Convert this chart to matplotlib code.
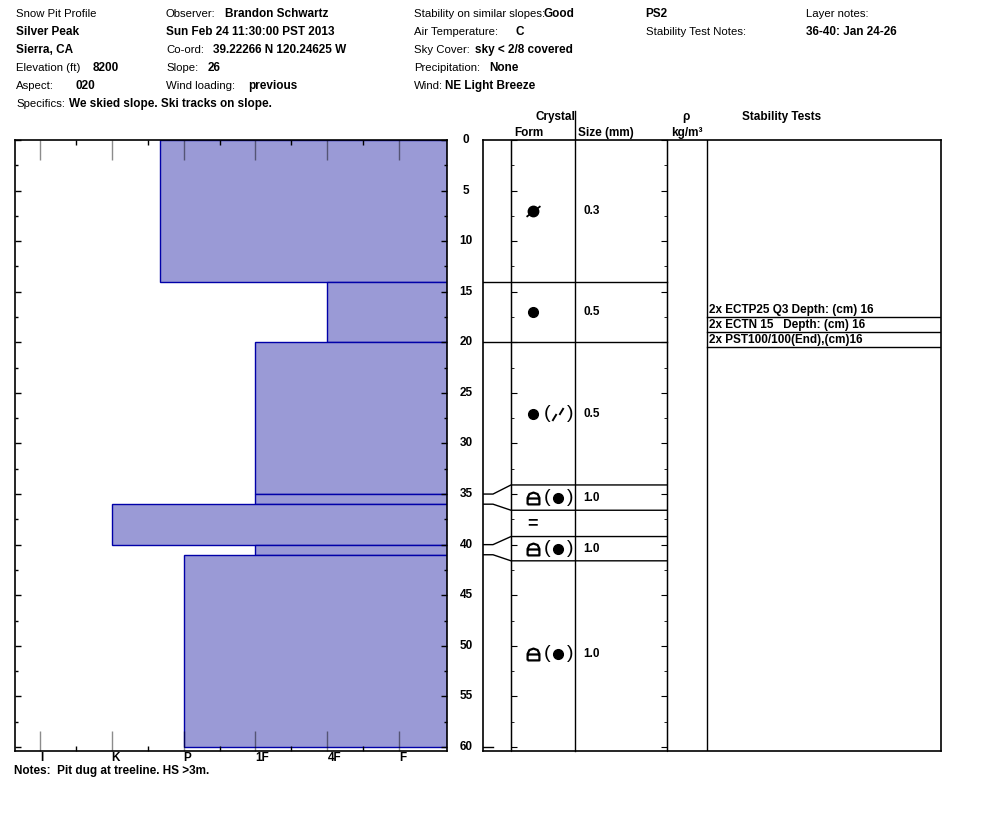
import numpy as np
import matplotlib.pyplot as plt
from matplotlib.path import Path

plt.rcParams['font.family'] = ['Liberation Sans', 'DejaVu Sans']

W, H = 994, 840

# ---- layer data (depth from surface, cm) ----
layer_top = [0, 14, 20, 35, 36, 40, 41]
layer_bottom = [14, 20, 35, 36, 40, 41, 60]
hardness = ['P-', '4F', '1F', '1F', 'K', '1F', 'P']
grain_form = ['DF', 'RG', 'RG', 'MF', 'IF', 'MF', 'MF']
grain_secondary = ['', '', 'DF', 'RG', '', 'RG', 'RG']
grain_size = ['0.3', '0.5', '0.5', '1.0', '', '1.0', '1.0']
# layer edges as drawn in the crystal column (thin layers spread out)
display_bounds = [0, 14, 20, 34.1, 36.6, 39.2, 41.6, 60]

hardness_labels = ['I', 'K', 'P', '1F', '4F', 'F']
depth_ticks = list(range(0, 61, 5))

stab_tests = ['2x ECTP25 Q3 Depth: (cm) 16',
              '2x ECTN 15   Depth: (cm) 16',
              '2x PST100/100(End),(cm)16']
stab_depth = [16, 16, 16]

# header: (label, label x, value, value x, row)
header = [
    ('Snow Pit Profile', 16, '', 0, 0),
    ('', 16, 'Silver Peak', 16, 1),
    ('', 16, 'Sierra, CA', 16, 2),
    ('Elevation (ft)', 16, '8200', 93, 3),
    ('Aspect:', 16, '020', 75, 4),
    ('Specifics:', 16, 'We skied slope. Ski tracks on slope.', 69, 5),
    ('Observer:', 166, 'Brandon Schwartz', 225, 0),
    ('', 166, 'Sun Feb 24 11:30:00 PST 2013', 166, 1),
    ('Co-ord:', 166, '39.22266 N 120.24625 W', 213, 2),
    ('Slope:', 166, '26', 208, 3),
    ('Wind loading:', 166, 'previous', 248, 4),
    ('Stability on similar slopes:', 414, 'Good', 544, 0),
    ('Air Temperature:', 414, 'C', 515, 1),
    ('Sky Cover:', 414, 'sky < 2/8 covered', 475, 2),
    ('Precipitation:', 414, 'None', 489, 3),
    ('Wind:', 414, 'NE Light Breeze', 445, 4),
    ('', 645, 'PS2', 645, 0),
    ('Stability Test Notes:', 646, '', 0, 1),
    ('Layer notes:', 806, '', 0, 0),
    ('', 806, '36-40: Jan 24-26', 806, 1),
]
notes = 'Notes:  Pit dug at treeline. HS >3m.'

HARD = {'I': 1, 'K': 2, 'P': 3, '1F': 4, '4F': 5, 'F': 6}


def hardness_value(code):
    base = code.rstrip('+-')
    v = HARD[base]
    if code.endswith('-'):
        v -= 1 / 3
    elif code.endswith('+'):
        v += 1 / 3
    return v


def px(x, y):
    return x / W, 1 - y / H


FS = 8.5
FS_LABEL = 8.2
fig = plt.figure(figsize=(W / 100, H / 100), dpi=100)

for label, lx, value, vx, row in header:
    y = 14 + 18 * row
    if label:
        fig.text(*px(lx, y), label, fontsize=FS_LABEL, va='center')
    if value:
        fig.text(*px(vx, y), value, fontsize=FS, va='center', fontweight='bold')

fig.text(*px(14, 771), notes, fontsize=FS, va='center', fontweight='bold')

# ---- hardness profile ----
XMIN, XMAX = 0.65, 6.66
YLIM = (60.4, 0)
ax = fig.add_axes([14.7 / W, 1 - 751 / H, 432 / W, 611 / H])
ax.set_xlim(XMIN, XMAX)
ax.set_ylim(*YLIM)
hv = np.array([hardness_value(h) for h in hardness])
top = np.array(layer_top)
bot = np.array(layer_bottom)
ax.barh((top + bot) / 2, XMAX - hv, left=hv, height=bot - top,
        color='#9a9ad6', edgecolor='#0000a8', linewidth=1, zorder=1)

ax.set_xticks(range(1, 7))
ax.set_xticks(np.arange(1.5, 6, 1), minor=True)
ax.set_xticklabels(hardness_labels, fontweight='bold', fontsize=FS)
for lbl in ax.get_xticklabels():
    lbl.set_ha('left')
ax.tick_params(axis='x', which='major', direction='in', length=14.5, width=1,
               color=(0, 0, 0, 0.45), top=True, bottom=True, pad=1)
ax.tick_params(axis='x', which='minor', direction='in', length=3.6, width=1,
               top=True, bottom=True)
ax.set_yticks(depth_ticks)
ax.set_yticks(np.arange(2.5, 60, 5), minor=True)
ax.tick_params(axis='y', which='major', direction='in', length=4.3, width=1,
               left=True, right=True, labelleft=False)
ax.tick_params(axis='y', which='minor', direction='in', length=2.5, width=1,
               left=True, right=True)
for s in ax.spines.values():
    s.set_linewidth(1.2)
    s.set_zorder(3)

ytr = ax.get_yaxis_transform()
for d in depth_ticks:
    ax.text((466 - 14.7) / 432, d, str(d), transform=ytr, ha='center',
            va='center', fontsize=FS, fontweight='bold')

# ---- layer table ----
at = fig.add_axes([483 / W, 1 - 751 / H, 458 / W, 611 / H])
at.set_xlim(0, 458)
at.set_ylim(*YLIM)
at.set_xticks([])
at.set_yticks([])
for s in at.spines.values():
    s.set_linewidth(1.2)
for cx in [28, 184, 224]:
    at.axvline(cx, color='k', lw=1)
at.plot([92, 92], [-2.9, 60.4], color='k', lw=1, clip_on=False)

ac = fig.add_axes([511 / W, 1 - 751 / H, 156 / W, 611 / H])
ac.set_ylim(*YLIM)
ac.patch.set_alpha(0)
ac.set_xticks([])
ac.set_yticks(depth_ticks)
ac.set_yticks(np.arange(2.5, 60, 5), minor=True)
ac.tick_params(axis='y', which='major', direction='in', length=4.5,
               left=True, right=True, labelleft=False)
ac.tick_params(axis='y', which='minor', direction='in', length=2.5,
               left=True, right=True)
ac.spines['top'].set_visible(False)
ac.spines['bottom'].set_visible(False)

for i in range(1, len(layer_top)):
    at.plot([0, 10, 28, 184],
            [layer_top[i], layer_top[i], display_bounds[i], display_bounds[i]],
            color='k', lw=1)
at.plot([0, 10], [layer_bottom[-1], layer_bottom[-1]], color='k', lw=1)

slash = Path([(-1.3, -1.0), (1.3, 1.0)])
crust = Path([(-1, -1), (1, -1), (1, 0.1), (0.7, 0.75), (0, 1), (-0.7, 0.75),
              (-1, 0.1), (-1, -1), (-1, 0.0), (1, 0.0)],
             [Path.MOVETO] + [Path.LINETO] * 7 + [Path.MOVETO, Path.LINETO])
short = Path([(-0.6, -1.0), (0.6, 1.0)])


def draw_form(code, x, y, big=True):
    if code == 'RG':
        at.plot(x, y, 'o', color='k', ms=7)
    elif code == 'DF' and big:
        at.plot(x, y, 'o', color='k', ms=7.5)
        at.plot(x, y, marker=slash, color='k', ms=10, mew=1.3)
    elif code == 'DF':
        at.plot(x - 4, y + 0.3, marker=short, color='k', ms=5, mew=1.4)
        at.plot(x + 3, y - 0.3, marker=short, color='k', ms=5, mew=1.4)
    elif code == 'MF':
        at.plot(x, y, marker=crust, color='k', ms=8.5, mew=1.6,
                fillstyle='none')
    elif code == 'IF':
        at.text(x, y, '=', ha='center', va='center', fontsize=13,
                fontweight='bold')


for i in range(len(grain_form)):
    y = (display_bounds[i] + display_bounds[i + 1]) / 2
    draw_form(grain_form[i], 50, y)
    if grain_secondary[i]:
        at.text(64, y, '(', ha='center', va='center', fontsize=14)
        draw_form(grain_secondary[i], 75, y, big=False)
        at.text(87, y, ')', ha='center', va='center', fontsize=14)
    if grain_size[i]:
        at.text(100, y, grain_size[i], ha='left', va='center',
                fontsize=FS, fontweight='bold')

for i, (txt, d) in enumerate(zip(stab_tests, stab_depth)):
    yc = d + 0.8 + 1.5 * i
    at.text(226, yc, txt, ha='left', va='center', fontsize=FS,
            fontweight='bold')
    at.plot([224, 458], [yc + 0.7, yc + 0.7], color='k', lw=1)

# column headings
hdr = [('Crystal', 575, 117, 'right'), ('Form', 514, 133, 'left'),
       ('Size (mm)', 578, 133, 'left'), ('\u03c1', 686, 117, 'center'),
       ('kg/m\u00b3', 687, 133, 'center'), ('Stability Tests', 782, 117, 'center')]
for txt, x, y, ha in hdr:
    fig.text(*px(x, y), txt, ha=ha, va='center', fontsize=FS, fontweight='bold')

fig.savefig('out.png', dpi=100)
